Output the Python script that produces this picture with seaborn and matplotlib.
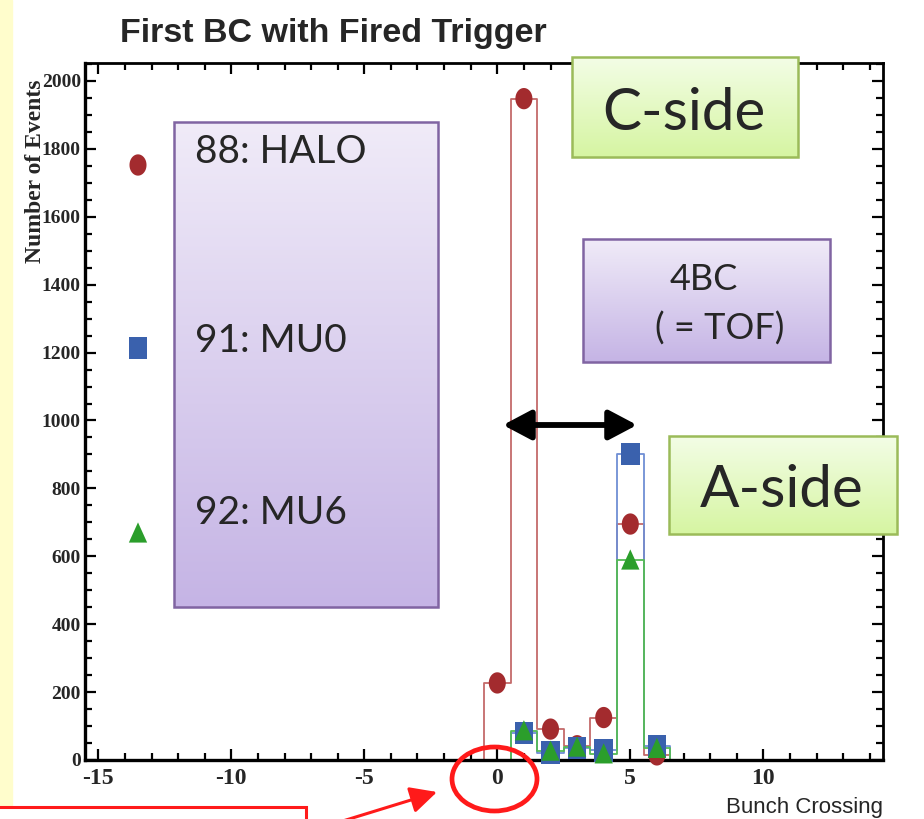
import numpy as np
import pandas as pd
import matplotlib
matplotlib.use("Agg")
import matplotlib.pyplot as plt
import seaborn as sns
from matplotlib.path import Path
from matplotlib.markers import MarkerStyle
from matplotlib.patches import Rectangle, Ellipse, FancyArrowPatch, ArrowStyle
from matplotlib.colors import LinearSegmentedColormap
from matplotlib.ticker import MultipleLocator

# ---------------- data ----------------
bunch_crossing = list(range(-15, 15))
halo_bins = [0, 1, 2, 3, 4, 5, 6]
halo_counts = [227, 1948, 91, 42, 125, 695, 15]
mu0_bins = [1, 2, 3, 4, 5, 6]
mu0_counts = [80, 22, 35, 28, 901, 40]
mu6_bins = [1, 2, 3, 4, 5, 6]
mu6_counts = [86, 26, 38, 18, 589, 34]
series_labels = ["88: HALO", "91: MU0", "92: MU6"]
x_ticks = [-15, -10, -5, 0, 5, 10]
y_ticks = list(range(0, 2001, 200))

title = "First BC with Fired Trigger"
x_label = "Bunch Crossing"
y_label = "Number of Events"


def full_hist(bins, counts):
    d = dict(zip(bins, counts))
    return [d.get(b, 0) for b in bunch_crossing]


df = pd.DataFrame({
    "bc": bunch_crossing * 3,
    "count": full_hist(halo_bins, halo_counts) + full_hist(mu0_bins, mu0_counts)
    + full_hist(mu6_bins, mu6_counts),
    "trigger": sum([[s] * len(bunch_crossing) for s in series_labels], []),
})

# ---------------- style ----------------
sns.set_style("ticks")
plt.rcParams["font.family"] = ["Liberation Serif", "DejaVu Serif"]

W, H = 924, 819
fig = plt.figure(figsize=(W / 100, H / 100), dpi=100)
fig.patch.set_facecolor("white")

ax = fig.add_axes([85 / W, 1 - 760 / H, (883 - 85) / W, (760 - 63) / H])


def vmarker(kind, aspect):
    if kind == "o":
        t = np.linspace(0, 2 * np.pi, 60)
        v = np.column_stack([aspect * np.sin(t), np.cos(t)])
    elif kind == "s":
        v = np.array([[-aspect, -1], [aspect, -1], [aspect, 1], [-aspect, 1], [-aspect, -1]])
    else:
        v = np.array([[0, 1], [-aspect, -0.9], [aspect, -0.9], [0, 1]])
    return MarkerStyle(Path(v, closed=True))


line_colors = {"88: HALO": "#c46a6a", "91: MU0": "#6f8fd4", "92: MU6": "#55bb55"}
mark_colors = {"88: HALO": "#a32b2e", "91: MU0": "#3a61ad", "92: MU6": "#2b9e2b"}
markers = {"88: HALO": vmarker("o", 0.80), "91: MU0": vmarker("s", 0.82),
           "92: MU6": vmarker("^", 0.86)}
msize = {"88: HALO": 235, "91: MU0": 265, "92: MU6": 235}

for lab in series_labels:
    sub = df[df.trigger == lab]
    sns.histplot(data=sub, x="bc", weights="count", discrete=True, element="step",
                 fill=False, color=line_colors[lab], linewidth=1.3, ax=ax, zorder=2)

for lab in series_labels:
    sub = df[(df.trigger == lab) & (df["count"] > 0)]
    sns.scatterplot(data=sub, x="bc", y="count", marker=markers[lab], s=msize[lab],
                    color=mark_colors[lab], edgecolor="none", linewidth=0, ax=ax,
                    zorder=3, clip_on=False)

ax.set_xlim(-15.5, 14.5)
ax.set_ylim(0, 2053)
ax.set_xticks(x_ticks)
ax.set_yticks(y_ticks)
ax.xaxis.set_minor_locator(MultipleLocator(1))
ax.yaxis.set_minor_locator(MultipleLocator(50))
ax.set_xticklabels([str(t) for t in x_ticks], fontsize=17, fontweight="bold",
                   family="Liberation Serif")
ax.set_yticklabels([str(t) for t in y_ticks], fontsize=14, fontweight="bold",
                   family="Liberation Serif")
ax.tick_params(which="both", direction="in", top=True, right=True, color="black",
               width=1.6)
ax.tick_params(which="major", length=8)
ax.tick_params(which="minor", length=5)
ax.tick_params(axis="y", pad=3)
ax.tick_params(axis="x", pad=6)
for s in ax.spines.values():
    s.set_visible(True)
    s.set_color("black")
    s.set_zorder(2.5)
ax.spines["left"].set_linewidth(2.4)
ax.spines["bottom"].set_linewidth(2.4)
ax.spines["top"].set_linewidth(2.0)
ax.spines["right"].set_linewidth(2.0)
ax.grid(False)

ax.set_ylabel(y_label, fontsize=17, fontweight="bold", family="Liberation Serif")
ax.yaxis.label.set_va("center")
ax.yaxis.set_label_coords((36 - 85) / 798, (760 - 171) / 697)
ax.set_xlabel(x_label, loc="right", fontsize=16,
              family=["Liberation Sans Narrow", "Liberation Sans"])
ax.xaxis.label.set_va("baseline")
ax.xaxis.set_label_coords(1.0, (760 - 813) / 697)
ax.set_title(title, loc="left", x=(120 - 85) / 798, y=(760 - 42) / 697,
             va="baseline", fontsize=24.5, fontweight="bold",
             family=["Liberation Sans Narrow", "Liberation Sans"], pad=0)

# ---------------- overlay annotations (pixel coords, top-left origin) ----------------
ov = fig.add_axes([0, 0, 1, 1], zorder=10)
ov.set_axis_off()

ov.add_patch(Rectangle((0, 0), 12, 806, color="#fffdcc", zorder=0))


def grad_box(x0, y0, x1, y1, top, bottom, edge):
    cmap = LinearSegmentedColormap.from_list("g", [top, bottom])
    grad = np.linspace(0, 1, 256).reshape(-1, 1)
    ov.imshow(grad, cmap=cmap, extent=(x0, x1, y1, y0), aspect="auto",
              origin="upper", zorder=1, interpolation="bilinear")
    ov.add_patch(Rectangle((x0, y0), x1 - x0, y1 - y0, fill=False,
                           edgecolor=edge, lw=1.8, zorder=2))


purple_top, purple_bot, purple_edge = "#f0ebf8", "#c5b4e5", "#8064a2"
green_top, green_bot, green_edge = "#f3fde6", "#d6f5a2", "#9bbb59"

grad_box(174, 122, 438, 607, purple_top, purple_bot, purple_edge)
grad_box(572, 57, 798, 157, green_top, green_bot, green_edge)
grad_box(583, 239, 830, 362, purple_top, purple_bot, purple_edge)
grad_box(669, 436, 897, 534, green_top, green_bot, green_edge)

txt_font = ["Lato", "DejaVu Sans"]
legend_y = [163, 352, 524]
for lab, yb in zip(series_labels, legend_y):
    ov.text(195, yb, lab, fontsize=28, family=txt_font, va="baseline", ha="left",
            zorder=3)

key_y = [165, 348, 533]
for lab, yk in zip(series_labels, key_y):
    ov.scatter([138], [yk], marker=markers[lab], s=msize[lab], color=mark_colors[lab],
               edgecolor="none", zorder=3)

ov.text(684, 130, "C-side", fontsize=42, family=txt_font, va="baseline", ha="center",
        zorder=3)
ov.text(782, 507, "A-side", fontsize=42, family=txt_font, va="baseline", ha="center",
        zorder=3)
ov.text(704, 290, "4BC", fontsize=26, family=txt_font, va="baseline", ha="center",
        zorder=3)
ov.text(720, 340, "( = TOF)", fontsize=26, family=txt_font, va="baseline", ha="center",
        zorder=3)

ov.add_patch(FancyArrowPatch((503, 425), (637, 425),
                             arrowstyle=ArrowStyle("<|-|>", head_length=0.85, head_width=0.45),
                             mutation_scale=20, lw=4.2, color="black",
                             shrinkA=0, shrinkB=0, zorder=4))

# red callout
ov.add_patch(Rectangle((-5, 807), 311, 40, fill=False, edgecolor="#ff1a1a", lw=2.2,
                       zorder=4))
ov.add_patch(Ellipse((494.5, 779), 85, 64, fill=False, edgecolor="#ff1a1a", lw=3.4,
                     zorder=4))
ov.add_patch(FancyArrowPatch((333, 824), (437, 792),
                             arrowstyle=ArrowStyle("-|>", head_length=0.9, head_width=0.45),
                             mutation_scale=18, lw=2.2, color="#ff1a1a",
                             shrinkA=0, shrinkB=0, zorder=4))

ov.set_xlim(0, W)
ov.set_ylim(H, 0)

fig.savefig("out.png", dpi=100)
